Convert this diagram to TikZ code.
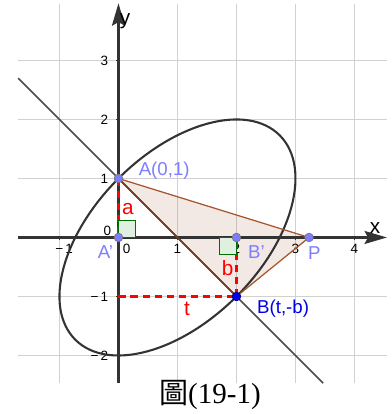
\documentclass[tikz,border=0pt]{standalone}
\usepackage{fontspec}
\setmainfont{Liberation Sans}
\newfontfamily\cjkfont{Noto Sans CJK TC}
\newfontfamily\titfont{Liberation Serif}
\usepackage{xcolor}
\usepackage{tikz}
\usetikzlibrary{arrows.meta, positioning, calc}

\definecolor{lila}{RGB}{125,125,255}
\definecolor{azulB}{RGB}{0,0,230}
\definecolor{cafe}{RGB}{165,85,45}
\definecolor{verde}{RGB}{0,110,0}

\begin{document}
\begin{tikzpicture}[
    rejilla/.style={draw=black!18, line width=0.5pt},
    eje/.style={draw=black!80, line width=1pt, -{Stealth[length=3.8mm, width=2.2mm, inset=0.6mm]}},
    punto/.style={circle, fill=lila, draw=black!55, line width=0.3pt, inner sep=0pt, minimum size=4.2pt},
    marca/.style={font=\fontsize{6.5}{7}\selectfont},
    etiq/.style={font=\fontsize{9}{10}\selectfont},
    rojo/.style={draw=red, line width=1pt, dash pattern=on 3.6pt off 2.2pt},
    recto/.style={draw=verde, fill=green!50!black!12, line width=0.5pt}
  ]

    % Marco de la figura
    \useasboundingbox (-2.008,-2.992) rectangle (4.636,4.025);

    % Cuadricula
    \foreach \i in {-1,...,4} {
        \draw[rejilla] (\i,-2.47) -- (\i,3.96);
    }
    \foreach \j in {-2,-1,1,2,3} {
        \draw[rejilla] (-1.70,\j) -- (4.55,\j);
    }

    % Puntos principales
    \coordinate (A) at (0,1);
    \coordinate (Ap) at (0,0);
    \coordinate (B) at (2,-1);
    \coordinate (Bp) at (2,0);
    \coordinate (P) at (3.23,0);
    \coordinate (T) at (0,-1);

    % Triangulo ABP (relleno)
    \fill[cafe, fill opacity=0.13] (A) -- (B) -- (P) -- cycle;

    % Ejes
    \draw[eje] (-1.70,0) -- (4.55,0);
    \draw[eje] (0,-2.47) -- (0,3.97);
    \node[font=\fontsize{10}{11}\selectfont] (ejex) at (4.35,0.16) {x};
    \node[font=\fontsize{10}{11}\selectfont] (ejey) at (0.11,3.66) {y};

    % Marcas y numeros
    \foreach \i in {-1,1,2,3,4} {
        \draw[black!80, line width=0.5pt] (\i,0) -- (\i,-0.04);
    }
    \foreach \j in {-2,-1,1,2,3} {
        \draw[black!80, line width=0.5pt] (0,\j) -- (-0.04,\j);
    }
    \node[marca] (nx-1) at (-0.92,-0.2) {−\,1};
    \node[marca] (nx0) at (0.14,-0.2) {0};
    \foreach \i in {1,2,3,4} {
        \node[marca] (nx\i) at (\i,-0.2) {\i};
    }
    \node[marca] (ny0) at (-0.19,0.12) {0};
    \foreach \j in {1,2,3} {
        \node[marca, anchor=east] (ny\j) at (-0.05,\j) {\j};
    }
    \node[marca, anchor=east] (ny-1) at (-0.05,-1) {−\,1};
    \node[marca, anchor=east] (ny-2) at (-0.05,-2) {−\,2};

    % Elipse inclinada
    \draw[black!80, line width=1pt, rotate around={45:(1,0)}] (1,0) ellipse ({sqrt(6)} and {sqrt(2)});

    % Recta por A y B
    \coordinate (L1) at (-1.70,2.70);
    \coordinate (L2) at (3.47,-2.47);
    \draw[black!70, line width=0.7pt] (L1) -- (L2);

    % Lados del triangulo
    \draw[cafe, line width=0.6pt] (A) -- (P) -- (B);
    \draw[cafe!70!black, line width=0.7pt] (A) -- (B);

    % Segmentos a, b, t
    \draw[rojo] (A) -- (Ap);
    \draw[rojo] (B) -- (Bp);
    \draw[rojo] (T) -- (B);
    \node[etiq, text=red, font=\fontsize{10}{11}\selectfont] (la) at (0.16,0.49) {a};
    \node[etiq, text=red, font=\fontsize{10}{11}\selectfont] (lb) at (1.85,-0.52) {b};
    \node[etiq, text=red, font=\fontsize{10}{11}\selectfont] (lt) at (1.16,-1.21) {t};

    % Angulos rectos
    \draw[recto] (Ap) rectangle (0.29,0.29);
    \draw[recto] (Bp) rectangle (1.71,-0.29);

    % Puntos
    \node[punto] (nA) at (A) {};
    \node[punto] (nAp) at (Ap) {};
    \node[punto] (nBp) at (Bp) {};
    \node[punto] (nP) at (P) {};
    \node[punto, fill=azulB, draw=azulB!60!black] (nB) at (B) {};

    % Etiquetas de los puntos
    \node[etiq, text=lila, anchor=west] (eA) at (0.22,1.14) {A(0,1)};
    \node[etiq, text=lila] (eAp) at (-0.22,-0.24) {A'};
    \node[etiq, text=lila] (eBp) at (2.34,-0.24) {B'};
    \node[etiq, text=lila] (eP) at (3.32,-0.27) {P};
    \node[etiq, text=azulB] (eB) at (2.79,-1.20) {B(t,-b)};

    % Titulo
    \node[font=\fontsize{14}{16}\selectfont] (titulo) at (1.55,-2.67) {{\cjkfont 圖}{\titfont (19-1)}};

\end{tikzpicture}
\end{document}
